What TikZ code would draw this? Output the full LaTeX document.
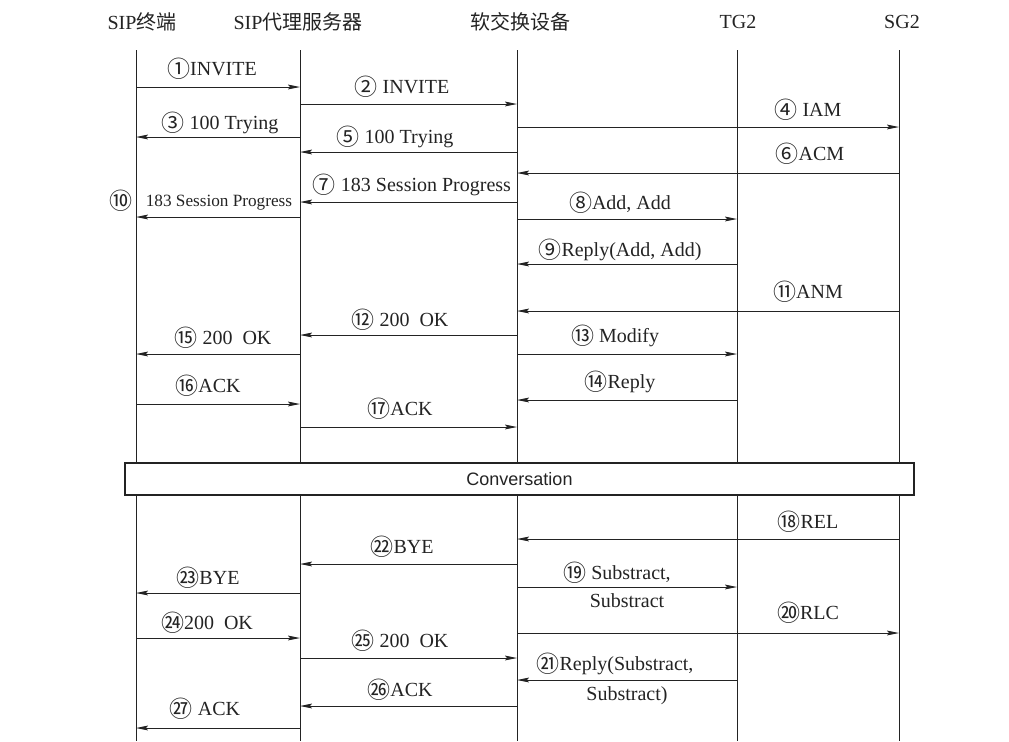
\documentclass[tikz,border=0pt]{standalone}
\usepackage{fontspec}
\setmainfont{Liberation Serif}
\newfontfamily\cjk{Noto Sans CJK SC}
\newfontfamily\convfont{Liberation Sans}
\usepackage{xcolor}
\usetikzlibrary{arrows.meta}
\usetikzlibrary{positioning}
\definecolor{ink}{RGB}{35,35,35}
\newcommand{\circnum}[1]{\raisebox{-0.9pt}{\cjk\fontsize{11.5}{12}\selectfont #1}}

\begin{document}
\begin{tikzpicture}[x=0.5pt, y=-0.5pt, every node/.style={text=ink, font=\fontsize{10}{12}\selectfont},
	life/.style={draw=ink, line width=0.5pt},
	msg/.style={draw=ink, line width=0.5pt, -{Stealth[length=6pt, width=2.4pt, inset=1pt]}},
	lbl/.style={inner sep=1pt}]
		\useasboundingbox (0,0) rectangle (1009,741);
		% headers
		\node at (142,22) (hue) {SIP{\cjk 终端}};
		\node at (298,22) (hpx) {SIP{\cjk 代理服务器}};
		\node at (520,22) (hss) {{\cjk 软交换设备}};
		\node at (738,22) (htg) {TG2};
		\node at (902,22) (hsg) {SG2};
		
		\coordinate (ue) at (136,50);
		\coordinate (px) at (300,50);
		\coordinate (ss) at (517,50);
		\coordinate (tg) at (737,50);
		\coordinate (sg) at (899,50);
		
		\node[draw=ink, line width=0.9pt, minimum width=394.5pt, minimum height=16pt, inner sep=0pt,
			font=\convfont\fontsize{9}{11}\selectfont] at (519.5,479) (conv) {Conversation};
		
		% lifelines
		\draw[life] (ue) -- (ue |- conv.north);
		\draw[life] (px) -- (px |- conv.north);
		\draw[life] (ss) -- (ss |- conv.north);
		\draw[life] (tg) -- (tg |- conv.north);
		\draw[life] (sg) -- (sg |- conv.north);
		\draw[life] (ue |- conv.south) -- (ue |- 0,741);
		\draw[life] (px |- conv.south) -- (px |- 0,741);
		\draw[life] (ss |- conv.south) -- (ss |- 0,741);
		\draw[life] (tg |- conv.south) -- (tg |- 0,741);
		\draw[life] (sg |- conv.south) -- (sg |- 0,741);
		
		% call setup
		\draw[msg] (ue |- 0,87) -- (px |- 0,87);
		\node[lbl] at (212,69) (m1) {\circnum{①}INVITE};
		\draw[msg] (px |- 0,104) -- (ss |- 0,104);
		\node[lbl] at (402,87) (m2) {\circnum{②} INVITE};
		\draw[msg] (px |- 0,137) -- (ue |- 0,137);
		\node[lbl] at (220,123) (m3) {\circnum{③} 100 Trying};
		\draw[msg] (ss |- 0,127) -- (sg |- 0,127);
		\node[lbl] at (808,110) (m4) {\circnum{④} IAM};
		\draw[msg] (ss |- 0,152) -- (px |- 0,152);
		\node[lbl] at (395,137) (m5) {\circnum{⑤} 100 Trying};
		\draw[msg] (sg |- 0,173) -- (ss |- 0,173);
		\node[lbl] at (810,154) (m6) {\circnum{⑥}ACM};
		\draw[msg] (ss |- 0,202) -- (px |- 0,202);
		\node[lbl] at (412,185) (m7) {\circnum{⑦} 183 Session Progress};
		\draw[msg] (ss |- 0,219) -- (tg |- 0,219);
		\node[lbl] at (620,203) (m8) {\circnum{⑧}Add, Add};
		\draw[msg] (px |- 0,217) -- (ue |- 0,217);
		\node[lbl] at (121,201) (m10) {\circnum{⑩}};
		\node[lbl, font=\fontsize{8.6}{10}\selectfont] at (219,203) (m10t) {183 Session Progress};
		\draw[msg] (tg |- 0,264) -- (ss |- 0,264);
		\node[lbl] at (620,250) (m9) {\circnum{⑨}Reply(Add, Add)};
		\draw[msg] (sg |- 0,311) -- (ss |- 0,311);
		\node[lbl] at (808,292) (m11) {\circnum{⑪}ANM};
		\draw[msg] (ss |- 0,335) -- (px |- 0,335);
		\node[lbl] at (400,320) (m12) {\circnum{⑫} 200\enspace OK};
		\draw[msg] (ss |- 0,354) -- (tg |- 0,354);
		\node[lbl] at (615,336) (m13) {\circnum{⑬} Modify};
		\draw[msg] (px |- 0,354) -- (ue |- 0,354);
		\node[lbl] at (223,338) (m15) {\circnum{⑮} 200\enspace OK};
		\draw[msg] (tg |- 0,400) -- (ss |- 0,400);
		\node[lbl] at (620,382) (m14) {\circnum{⑭}Reply};
		\draw[msg] (ue |- 0,404) -- (px |- 0,404);
		\node[lbl] at (208,386) (m16) {\circnum{⑯}ACK};
		\draw[msg] (px |- 0,427) -- (ss |- 0,427);
		\node[lbl] at (400,409) (m17) {\circnum{⑰}ACK};
		
		% release
		\draw[msg] (sg |- 0,539) -- (ss |- 0,539);
		\node[lbl] at (808,522) (m18) {\circnum{⑱}REL};
		\draw[msg] (ss |- 0,564) -- (px |- 0,564);
		\node[lbl] at (402,547) (m22) {\circnum{㉒}BYE};
		\draw[msg] (ss |- 0,587) -- (tg |- 0,587);
		\node[lbl] at (617,573) (m19) {\circnum{⑲} Substract,};
		\node[lbl] at (627,601) (m19b) {Substract};
		\draw[msg] (px |- 0,593) -- (ue |- 0,593);
		\node[lbl] at (208,578) (m23) {\circnum{㉓}BYE};
		\draw[msg] (ss |- 0,633) -- (sg |- 0,633);
		\node[lbl] at (808,613) (m20) {\circnum{⑳}RLC};
		\draw[msg] (ue |- 0,638) -- (px |- 0,638);
		\node[lbl] at (207,623) (m24) {\circnum{㉔}200\enspace OK};
		\draw[msg] (px |- 0,658) -- (ss |- 0,658);
		\node[lbl] at (400,641) (m25) {\circnum{㉕} 200\enspace OK};
		\draw[msg] (tg |- 0,680) -- (ss |- 0,680);
		\node[lbl] at (615,664) (m21) {\circnum{㉑}Reply(Substract,};
		\node[lbl] at (627,696) (m21b) {Substract)};
		\draw[msg] (ss |- 0,706) -- (px |- 0,706);
		\node[lbl] at (400,690) (m26) {\circnum{㉖}ACK};
		\draw[msg] (px |- 0,728) -- (ue |- 0,728);
		\node[lbl] at (205,709) (m27) {\circnum{㉗} ACK};
	\end{tikzpicture}
\end{document}
